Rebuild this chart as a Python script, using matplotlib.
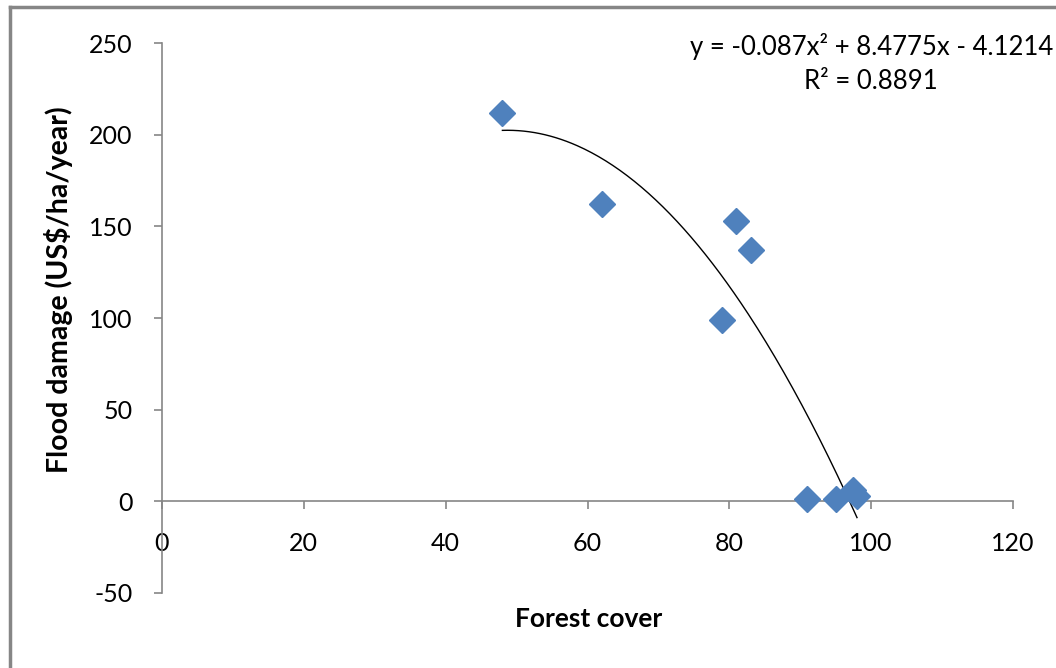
import numpy as np
import matplotlib.pyplot as plt
from matplotlib.lines import Line2D

plt.rcParams['font.family'] = ['Lato', 'DejaVu Sans']
plt.rcParams['axes.unicode_minus'] = False

# forest cover (%) vs flood damage
forest_cover = [48, 62, 79, 81, 83, 91, 95, 97.5, 98]
flood_damage = [212, 162, 99, 153, 137, 1, 1, 6, 3]

# Excel polynomial trendline (order 2)
trend_coef = [-0.087, 8.4775, -4.1214]
trend_text = 'y = -0.087x² + 8.4775x - 4.1214\nR² = 0.8891'

x_ticks = [0, 20, 40, 60, 80, 100, 120]
y_ticks = [-50, 0, 50, 100, 150, 200, 250]

fig = plt.figure(figsize=(10.56, 6.68), dpi=100)
ax = fig.add_axes([0.1534, 0.1123, 0.8059, 0.8233])

xs = np.linspace(min(forest_cover), max(forest_cover), 200)
ax.plot(xs, np.polyval(trend_coef, xs), color='black', lw=1.0, zorder=2)
ax.plot(forest_cover, flood_damage, 'D', color='#4F81BD', ms=13, mec='#4F81BD', zorder=3)

ax.set_xlim(0, 120)
ax.set_ylim(-50, 250)
ax.set_xticks(x_ticks)
ax.set_yticks(y_ticks)
ax.spines['bottom'].set_position(('data', 0))
ax.spines['top'].set_visible(False)
ax.spines['right'].set_visible(False)
for s in ['left', 'bottom']:
    ax.spines[s].set_color('#868686')
    ax.spines[s].set_linewidth(1.2)
ax.tick_params(axis='both', colors='#868686', labelcolor='black', length=6, width=1.2, labelsize=18)
ax.tick_params(axis='x', pad=16)
ax.tick_params(axis='y', pad=15)

fig.text(0.055, 0.566, 'Flood damage (US$/ha/year)', rotation=90, ha='center', va='center',
         fontsize=20.5, fontweight='bold')
fig.text(0.557, 0.073, 'Forest cover', ha='center', va='center', fontsize=19, fontweight='bold')
fig.text(0.825, 0.905, trend_text, ha='center', va='center', fontsize=18.5, linespacing=1.45)

# chart area border (left and top visible)
fig.add_artist(Line2D([0.0095, 0.0095], [0, 0.99], transform=fig.transFigure, color='#868686', lw=2.5))
fig.add_artist(Line2D([0.0095, 1.0], [0.99, 0.99], transform=fig.transFigure, color='#868686', lw=2.5))

fig.savefig('out.png', dpi=100)
